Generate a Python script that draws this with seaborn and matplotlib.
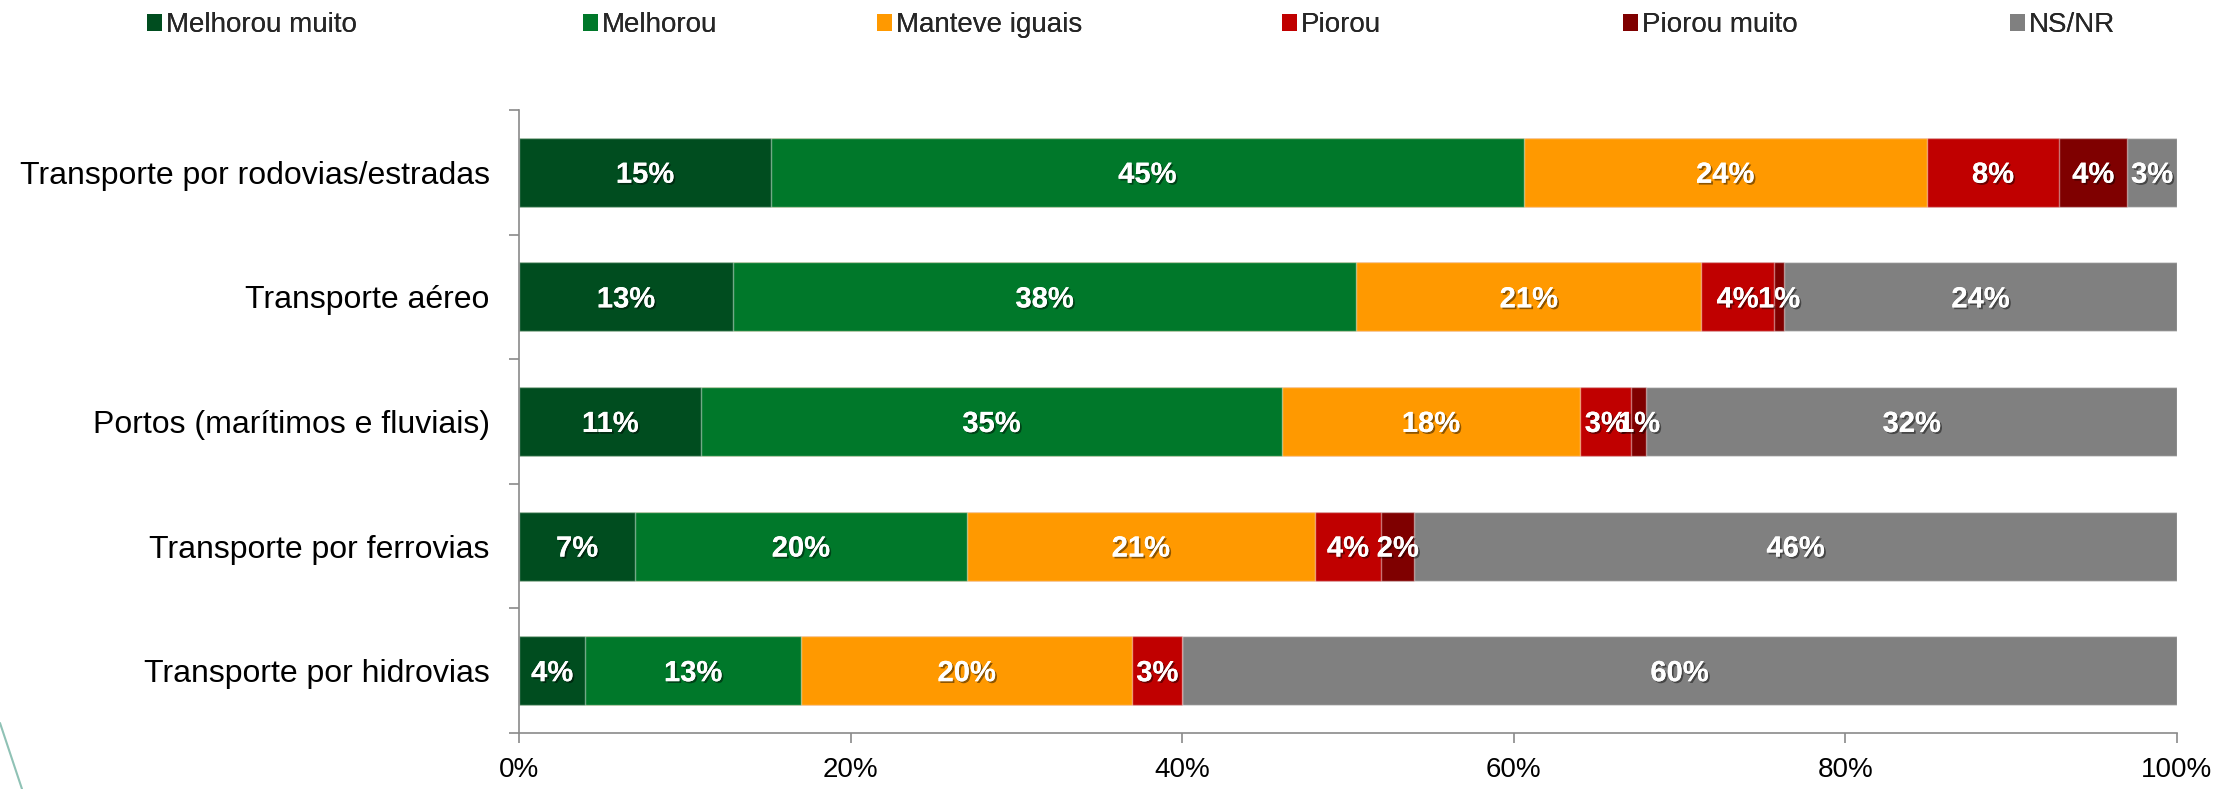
import numpy as np
import pandas as pd
import seaborn as sns
import matplotlib
matplotlib.use("Agg")
import matplotlib.pyplot as plt
import matplotlib.patheffects as pe
from matplotlib.patches import Patch
from matplotlib.lines import Line2D

# ---- data (percent of respondents) ----
categorias = [
    "Transporte por rodovias/estradas",
    "Transporte aéreo",
    "Portos (marítimos e fluviais)",
    "Transporte por ferrovias",
    "Transporte por hidrovias",
]
respostas = ["Melhorou muito", "Melhorou", "Manteve iguais", "Piorou", "Piorou muito", "NS/NR"]

melhorou_muito = [15.2, 12.9, 11.0, 7.0, 4.0]
melhorou = [45.4, 37.6, 35.0, 20.0, 13.0]
manteve_iguais = [24.3, 20.8, 18.0, 21.0, 20.0]
piorou = [8.0, 4.4, 3.1, 4.0, 3.0]
piorou_muito = [4.1, 0.6, 0.9, 2.0, 0.0]
ns_nr = [3.0, 23.7, 32.0, 46.0, 60.0]

x_ticks = [0, 20, 40, 60, 80, 100]
x_tick_labels = ["0%", "20%", "40%", "60%", "80%", "100%"]

cores = ["#004d1f", "#00782a", "#ff9900", "#c00000", "#7f0000", "#808080"]

series = [melhorou_muito, melhorou, manteve_iguais, piorou, piorou_muito, ns_nr]

# long-form table with the running total of each stacked segment
linhas = []
for resp, vals in zip(respostas, series):
    for cat, v in zip(categorias, vals):
        linhas.append({"categoria": cat, "resposta": resp, "valor": v})
df = pd.DataFrame(linhas)
df["resposta"] = pd.Categorical(df["resposta"], respostas, ordered=True)
df["categoria"] = pd.Categorical(df["categoria"], categorias, ordered=True)
df = df.sort_values(["categoria", "resposta"])
df["acumulado"] = df.groupby("categoria", observed=True)["valor"].cumsum()
df["inicio"] = df["acumulado"] - df["valor"]

# ---- style ----
sns.set_theme(style="white")
plt.rcParams["font.family"] = ["Liberation Sans", "DejaVu Sans"]
cinza_eixo = "#8a8a8a"

fig = plt.figure(figsize=(22.18, 7.89), dpi=100)
ax = fig.add_axes([0.234, 0.071, 0.9815 - 0.234, 0.8606 - 0.071])

# stacked bars: draw running totals from the last answer to the first
for resp, cor in reversed(list(zip(respostas, cores))):
    sub = df[df["resposta"] == resp]
    sns.barplot(
        data=sub, x="acumulado", y="categoria", order=categorias,
        color=cor, width=0.555, errorbar=None, orient="h",
        edgecolor=(1, 1, 1, 0.45), linewidth=1.0, ax=ax,
        saturation=1,
    )

# value labels centred in each segment
posicao = {c: i for i, c in enumerate(categorias)}
sombra = [pe.withSimplePatchShadow(offset=(1.3, -1.3), shadow_rgbFace="black", alpha=0.45),
          pe.Normal()]
for _, r in df.iterrows():
    if r["valor"] <= 0:
        continue
    ax.text(r["inicio"] + r["valor"] / 2, posicao[r["categoria"]] + 0.02, f"{r['valor']:.0f}%",
            ha="center", va="center", color="white", fontsize=21, fontweight="bold",
            path_effects=sombra)

# ---- axes ----
ax.set_xlim(0, 100)
ax.set_ylim(len(categorias) - 0.5, -0.5)
ax.set_xticks(x_ticks)
ax.set_xticklabels(x_tick_labels, fontsize=20)
ax.set_yticks(range(len(categorias)))
ax.set_yticklabels(categorias, fontsize=23)
ax.set_yticks(np.arange(-0.5, len(categorias), 1), minor=True)
ax.set_xlabel("")
ax.set_ylabel("")

for lado in ["top", "right"]:
    ax.spines[lado].set_visible(False)
for lado in ["left", "bottom"]:
    ax.spines[lado].set_color(cinza_eixo)
    ax.spines[lado].set_linewidth(1.2)

ax.tick_params(axis="x", which="major", direction="out", length=7.5, width=1.2,
               color=cinza_eixo, pad=10, labelcolor="black", bottom=True)
ax.tick_params(axis="y", which="major", length=0, pad=21, labelcolor="black")
ax.tick_params(axis="y", which="minor", direction="out", length=7.5, width=1.2,
               color=cinza_eixo, left=True)

# ---- legend ----
handles = [Patch(facecolor=c, edgecolor="none", label=r) for r, c in zip(respostas, cores)]
leg_x = [151, 587, 881, 1286, 1627, 2014]
for h, x in zip(handles, leg_x):
    lg = fig.legend(handles=[h], loc="center left",
                    bbox_to_anchor=(x / 2218 - 0.0045, 1 - 25 / 789),
                    frameon=False, fontsize=20, handlelength=0.55, handleheight=0.55,
                    handletextpad=0.15, borderaxespad=0, borderpad=0.2)
    fig.add_artist(lg)

# decorative accent line in the lower-left corner
fig.add_artist(Line2D([0, 22 / 2218], [1 - 723 / 789, 0], transform=fig.transFigure,
                      color="#8fc2b5", linewidth=1.5))

fig.savefig("out.png", dpi=100, facecolor="white")
